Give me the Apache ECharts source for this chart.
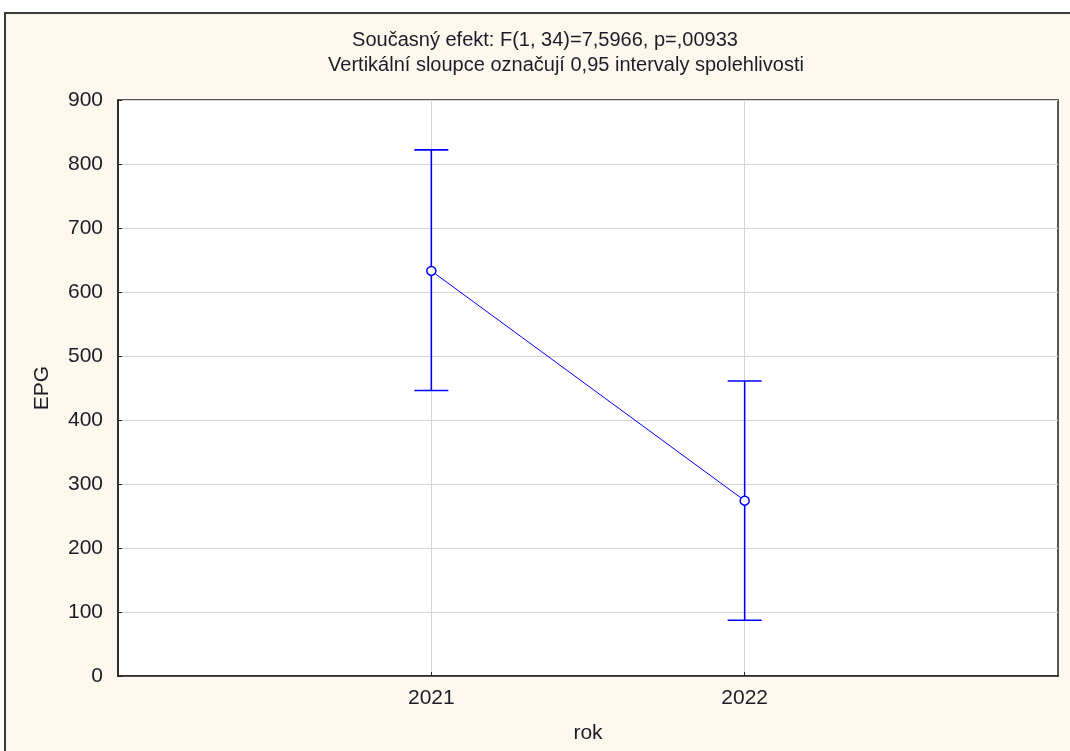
<!DOCTYPE html>
<html>
<head>
<meta charset="utf-8">
<script src="https://cdn.jsdelivr.net/npm/echarts@6/dist/echarts.min.js"></script>
<style>
  html, body { margin: 0; padding: 0; background: #ffffff; }
  #chart { width: 1070px; height: 751px; }
</style>
</head>
<body>
<div id="chart"></div>
<script>
// Mean EPG per year with 95 % confidence intervals
const years = [2021, 2022];
const means = [633, 274];
const lowerCI = [446, 87];
const upperCI = [822, 461];
const yTicks = [0, 100, 200, 300, 400, 500, 600, 700, 800, 900];

const titleLine1 = 'Současný efekt: F(1, 34)=7,5966, p=,00933';
const titleLine2 = 'Vertikální sloupce označují 0,95 intervaly spolehlivosti';

const FONT = '"Liberation Sans", Arial, sans-serif';
const TEXT = '#1c1c28';
const BLUE = '#0000ff';

const chart = echarts.init(document.getElementById('chart'), null, { renderer: 'canvas' });

const meanData = years.map((y, i) => [y, means[i]]);
const ciData = years.map((y, i) => [y, lowerCI[i], upperCI[i]]);

chart.setOption({
  animation: false,
  backgroundColor: '#ffffff',
  graphic: [
    {
      type: 'rect', z: -10, silent: true,
      shape: { x: 5, y: 13, width: 1200, height: 900 },
      style: { fill: '#fdf8ee', stroke: '#3a3a3a', lineWidth: 2 }
    },
    {
      type: 'text', x: 545, y: 40, silent: true,
      style: { text: titleLine1, font: '20px ' + FONT, fill: TEXT, align: 'center', verticalAlign: 'middle' }
    },
    {
      type: 'text', x: 566, y: 65, silent: true,
      style: { text: titleLine2, font: '20px ' + FONT, fill: TEXT, align: 'center', verticalAlign: 'middle' }
    }
  ],
  grid: {
    left: 118, top: 100, right: 12, bottom: 75,
    show: true, backgroundColor: '#ffffff',
    borderColor: '#222222', borderWidth: 1.5
  },
  xAxis: {
    type: 'value', min: 2020, max: 2023, interval: 1,
    name: 'rok', nameLocation: 'middle', nameGap: 47,
    nameTextStyle: { fontFamily: FONT, fontSize: 21, color: TEXT },
    axisLine: { show: true, onZero: false, lineStyle: { color: '#222222', width: 1.5 } },
    axisTick: { show: true, inside: true, length: 4, customValues: years, lineStyle: { color: '#222222' } },
    axisLabel: {
      fontFamily: FONT, fontSize: 21, color: TEXT, margin: 12,
      customValues: years,
      formatter: v => (years.indexOf(v) >= 0 ? String(v) : '')
    },
    splitLine: { show: true, lineStyle: { color: '#d4d4d4', width: 1 } }
  },
  yAxis: {
    type: 'value', min: yTicks[0], max: yTicks[yTicks.length - 1], interval: 100,
    name: 'EPG', nameLocation: 'middle', nameGap: 65, nameRotate: 90,
    nameTextStyle: { fontFamily: FONT, fontSize: 21, color: TEXT },
    axisLine: { show: true, lineStyle: { color: '#222222', width: 1.5 } },
    axisTick: { show: true, inside: true, length: 4, lineStyle: { color: '#222222' } },
    axisLabel: { fontFamily: FONT, fontSize: 21, color: TEXT, margin: 15 },
    splitLine: { show: true, lineStyle: { color: '#d4d4d4', width: 1 } }
  },
  series: [
    {
      type: 'custom',
      data: ciData,
      encode: { x: 0, y: [1, 2] },
      z: 3,
      renderItem: function (params, api) {
        const x = api.value(0);
        const lo = api.coord([x, api.value(1)]);
        const hi = api.coord([x, api.value(2)]);
        const half = 17;
        const st = { stroke: BLUE, lineWidth: 1.6, fill: null };
        return {
          type: 'group',
          children: [
            { type: 'line', shape: { x1: hi[0], y1: hi[1], x2: lo[0], y2: lo[1] }, style: st },
            { type: 'line', shape: { x1: hi[0] - half, y1: hi[1], x2: hi[0] + half, y2: hi[1] }, style: st },
            { type: 'line', shape: { x1: lo[0] - half, y1: lo[1], x2: lo[0] + half, y2: lo[1] }, style: st }
          ]
        };
      }
    },
    {
      type: 'line',
      data: meanData,
      z: 4,
      symbol: 'circle',
      symbolSize: 9,
      lineStyle: { color: BLUE, width: 1 },
      itemStyle: { color: '#ffffff', borderColor: BLUE, borderWidth: 1.5 }
    }
  ]
});
</script>
</body>
</html>
